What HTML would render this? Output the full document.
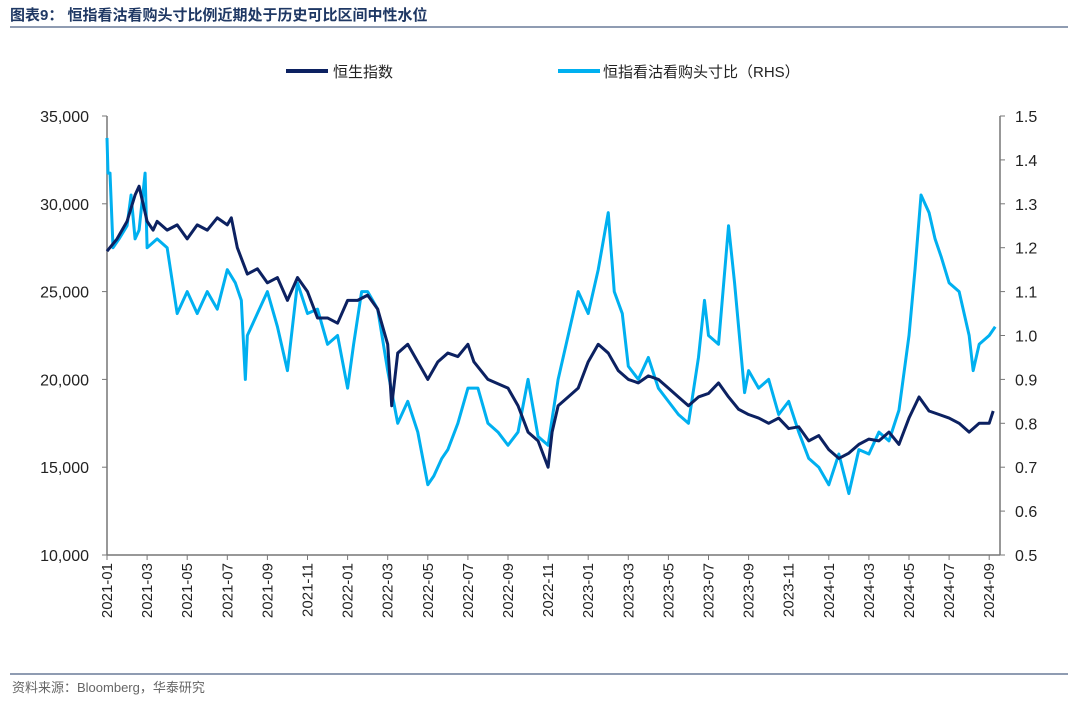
<!DOCTYPE html>
<html><head><meta charset="utf-8">
<style>
body{margin:0;background:#fff;font-family:"Liberation Sans","Noto Sans CJK SC",sans-serif;}
#wrap{position:relative;width:1080px;height:701px;overflow:hidden;}
</style></head>
<body><div id="wrap">
<svg id="svg" width="1080" height="701" xmlns="http://www.w3.org/2000/svg">
<text x="10" y="20" font-size="15" font-weight="bold" fill="#1f3864" font-family="Liberation Sans,Noto Sans CJK SC,sans-serif">图表9：  恒指看沽看购头寸比例近期处于历史可比区间中性水位</text>
<line x1="10" y1="27" x2="1068" y2="27" stroke="#1f3864" stroke-width="1"/>
<g>
<g><line x1="286" y1="71" x2="328" y2="71" stroke="#0c2161" stroke-width="4"/><text x="333" y="77" font-size="15" fill="#222">恒生指数</text></g>
<g><line x1="558" y1="71" x2="600" y2="71" stroke="#00b0f0" stroke-width="4"/><text x="603" y="77" font-size="15" fill="#222">恒指看沽看购头寸比（RHS）</text></g>
</g>
<g id="axes"></g>
<g id="series"></g>
<line x1="10" y1="674" x2="1068" y2="674" stroke="#1f3864" stroke-width="1"/>
<text x="12" y="692" font-size="13" fill="#666">资料来源：Bloomberg，华泰研究</text>
</svg>
</div>
<script>
const monthLabels=["2021-01","2021-03","2021-05","2021-07","2021-09","2021-11","2022-01","2022-03","2022-05","2022-07","2022-09","2022-11","2023-01","2023-03","2023-05","2023-07","2023-09","2023-11","2024-01","2024-03","2024-05","2024-07","2024-09"];
const leftTicks=[10000,15000,20000,25000,30000,35000];
const rightTicks=[0.5,0.6,0.7,0.8,0.9,1.0,1.1,1.2,1.3,1.4,1.5];
const hsiT=[0,0.5,1,1.4,1.6,2,2.3,2.5,3,3.5,4,4.5,5,5.5,6,6.2,6.5,7,7.5,8,8.5,9,9.5,10,10.5,11,11.5,12,12.5,13,13.5,14,14.2,14.5,15,15.5,16,16.5,17,17.5,18,18.3,19,20,20.5,21,21.5,22,22.2,22.5,23,23.5,24,24.5,25,25.5,26,26.5,27,27.5,28,28.5,29,29.5,30,30.5,31,31.5,32,32.5,33,33.5,34,34.5,35,35.5,36,36.5,37,37.5,38,38.5,39,39.5,40,40.5,41,41.5,42,42.5,43,43.5,44,44.2];
const hsiV=[27300,28000,29000,30500,31000,29000,28500,29000,28500,28800,28000,28800,28500,29200,28800,29200,27500,26000,26300,25500,25800,24500,25800,25000,23500,23500,23200,24500,24500,24800,24000,22000,18500,21500,22000,21000,20000,21000,21500,21300,22000,21000,20000,19500,18500,17000,16500,15000,17000,18500,19000,19500,21000,22000,21500,20500,20000,19800,20200,20000,19500,19000,18500,19000,19200,19800,19000,18300,18000,17800,17500,17800,17200,17300,16500,16800,16000,15500,15800,16300,16600,16500,17000,16300,17800,19000,18200,18000,17800,17500,17000,17500,17500,18200];
const pcT=[0,0.05,0.15,0.3,0.6,1,1.2,1.4,1.6,1.9,2,2.5,3,3.5,4,4.5,5,5.5,6,6.4,6.7,6.9,7,7.5,8,8.5,9,9.5,10,10.5,11,11.5,12,12.3,12.7,13,13.5,14,14.5,15,15.5,16,16.3,16.7,17,17.5,18,18.5,19,19.5,20,20.5,21,21.5,22,22.5,23,23.5,24,24.5,25,25.3,25.7,26,26.5,27,27.5,28,28.5,29,29.5,29.8,30,30.5,31,31.3,31.8,32,32.5,33,33.5,34,34.5,35,35.5,36,36.5,37,37.5,38,38.5,39,39.5,40,40.3,40.6,41,41.3,41.6,42,42.5,43,43.2,43.5,44,44.3];
const pcV=[1.45,1.37,1.37,1.2,1.22,1.25,1.32,1.22,1.24,1.37,1.2,1.22,1.2,1.05,1.1,1.05,1.1,1.06,1.15,1.12,1.08,0.9,1.0,1.05,1.1,1.02,0.92,1.12,1.05,1.06,0.98,1.0,0.88,0.98,1.1,1.1,1.06,0.92,0.8,0.85,0.78,0.66,0.68,0.72,0.74,0.8,0.88,0.88,0.8,0.78,0.75,0.78,0.9,0.77,0.75,0.9,1.0,1.1,1.05,1.15,1.28,1.1,1.05,0.93,0.9,0.95,0.88,0.85,0.82,0.8,0.95,1.08,1.0,0.98,1.25,1.12,0.87,0.92,0.88,0.9,0.82,0.85,0.78,0.72,0.7,0.66,0.73,0.64,0.74,0.73,0.78,0.76,0.83,1.0,1.15,1.32,1.28,1.22,1.18,1.12,1.1,1.0,0.92,0.98,1.0,1.02];

const NS="http://www.w3.org/2000/svg";
const X0=107,X1=1000,YT=116,YB=555,PXM=20.05;
const xs=t=>X0+t*PXM;
const yL=v=>YB-(v-10000)/25000*(YB-YT);
const yR=v=>YB-(v-0.5)/1.0*(YB-YT);
function mk(tag,attrs,parent){const e=document.createElementNS(NS,tag);for(const k in attrs)e.setAttribute(k,attrs[k]);parent.appendChild(e);return e;}
const ax=document.getElementById('axes'),se=document.getElementById('series');
let e=mk('line',{x1:X0,y1:YT,x2:X0,y2:YB,stroke:'#777','stroke-width':1.5},ax);


e=mk('line',{x1:X1,y1:YT,x2:X1,y2:YB,stroke:'#777','stroke-width':1.5},ax);


e=mk('line',{x1:X0,y1:YB,x2:X1,y2:YB,stroke:'#777','stroke-width':1.5},ax);


leftTicks.forEach(v=>{const y=yL(v);mk('line',{x1:X0-5,y1:y,x2:X0,y2:y,stroke:'#777'},ax);
const t=mk('text',{x:X0-18,y:y+6,'font-size':16,'text-anchor':'end',fill:'#222'},ax);t.textContent=v.toLocaleString('en-US');

});
rightTicks.forEach(v=>{const y=yR(v);mk('line',{x1:X1,y1:y,x2:X1+5,y2:y,stroke:'#777'},ax);
const t=mk('text',{x:X1+15,y:y+6,'font-size':16,fill:'#222'},ax);t.textContent=v.toFixed(1);

});
monthLabels.forEach((m,i)=>{const x=xs(i*2);mk('line',{x1:x,y1:YB,x2:x,y2:YB+5,stroke:'#777'},ax);
const t=mk('text',{x:0,y:0,'font-size':15,'text-anchor':'end',fill:'#222',transform:`translate(${x+5},${YB+8}) rotate(-90)`},ax);t.textContent=m;

});
let p=mk('polyline',{points:pcT.map((t,i)=>xs(t)+','+yR(pcV[i])).join(' '),fill:'none',stroke:'#00b0f0','stroke-width':3,'stroke-linejoin':'round'},se);


p=mk('polyline',{points:hsiT.map((t,i)=>xs(t)+','+yL(hsiV[i])).join(' '),fill:'none',stroke:'#0c2161','stroke-width':3,'stroke-linejoin':'round'},se);


</script>
</body></html>
